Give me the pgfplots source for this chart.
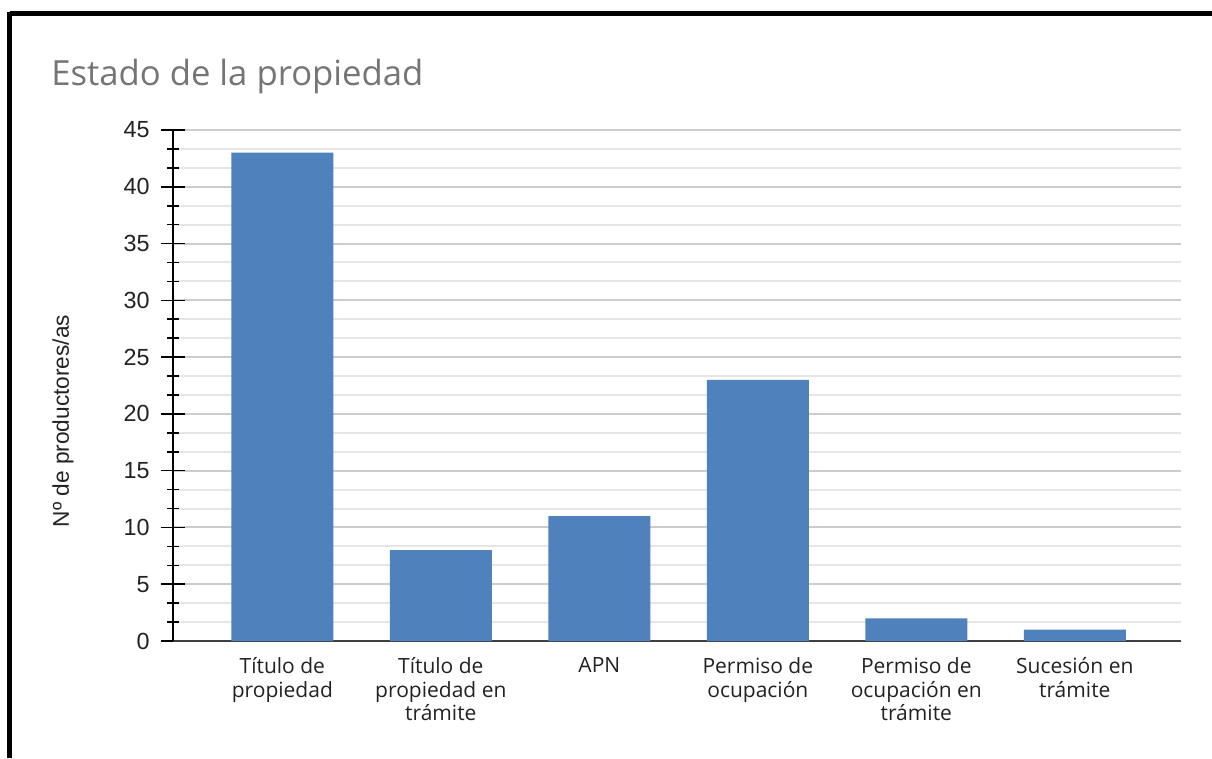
\documentclass[border=0pt]{standalone}
\usepackage{pgfplots}
\pgfplotsset{compat=1.18}
\usepackage{fontspec}
\setmainfont{Liberation Sans}
\newfontfamily\osans{Open Sans}
\definecolor{barblue}{HTML}{4F81BD}
\definecolor{titlegray}{HTML}{757575}
\definecolor{majgrid}{HTML}{CCCCCC}
\definecolor{mingrid}{HTML}{E6E6E6}
\definecolor{labtext}{HTML}{222222}
\begin{document}
\begin{tikzpicture}[x=0.75pt,y=-0.75pt]
\path[use as bounding box] (0,0) rectangle (1212,758);
\begin{axis}[
  at={(129.75pt,-480.75pt)}, anchor=south west,
  scale only axis,
  width=756pt, height=383.25pt,
  xmin=-0.69, xmax=5.67,
  ymin=0, ymax=45,
  ybar, bar width=76.5pt,
  axis x line*=bottom,
  axis y line*=left,
  x axis line style={draw=black!75, line width=1.5pt, -},
  y axis line style={draw=black, line width=1.5pt, -},
  xtick={0,1,2,3,4,5},
  xtick style={draw=none},
  xticklabels={T\'itulo de\\propiedad, T\'itulo de\\propiedad en\\tr\'amite, APN, Permiso de\\ocupaci\'on, Permiso de\\ocupaci\'on en\\tr\'amite, Sucesi\'on en\\tr\'amite},
  xticklabel style={align=center, font=\osans\fontsize{15.75}{17.5}\selectfont, text=labtext, yshift=9pt},
  ytick={0,5,...,45},
  minor y tick num=2,
  ytick align=center,
  major tick length=18pt,
  minor tick length=9pt,
  ytick style={draw=black, line width=1.2pt},
  yticklabel style={font=\fontsize{17.5}{20}\selectfont, text=labtext, xshift=-5pt},
  /pgf/number format/assume math mode=true,
  ymajorgrids, yminorgrids,
  major grid style={draw=majgrid, line width=1.5pt},
  minor grid style={draw=mingrid, line width=1.5pt},
  axis on top=false,
  clip=false,
]
\addplot[fill=barblue, draw=none, bar shift=0pt] coordinates {(0,43) (1,8) (2,11) (3,23) (4,2) (5,1)};
\end{axis}
\node[anchor=base west, text=titlegray, font=\osans\fontsize{26}{30}\selectfont, inner sep=0pt] at (51,85) {Estado de la propiedad};
\node[rotate=90, text=labtext, font=\fontsize{17}{20}\selectfont, inner sep=0pt] at (63,421) {Nº de productores/as};
\draw[line width=3.75pt, black] (9.5,13.5) -- (1212,13.5);
\draw[line width=3.75pt, black] (9.5,11.6) -- (9.5,758);
\end{tikzpicture}
\end{document}
